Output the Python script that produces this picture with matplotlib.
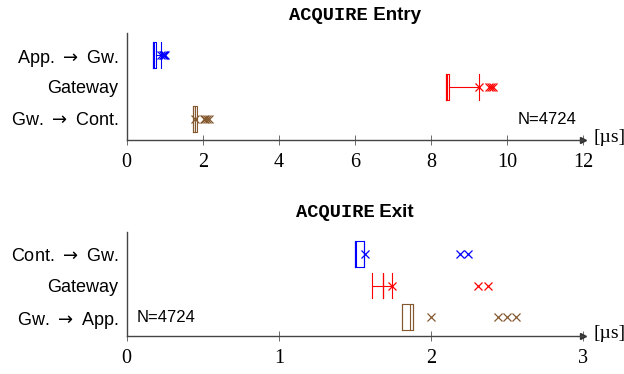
import matplotlib
matplotlib.use("Agg")
import matplotlib.pyplot as plt

# ---------------- data ----------------
entry_labels = ["App. $\\rightarrow$ Gw.", "Gateway", "Gw. $\\rightarrow$ Cont."]
entry_q1 = [0.70, 8.40, 1.75]
entry_med = [0.72, 8.43, 1.79]
entry_q3 = [0.76, 8.47, 1.84]
entry_wlo = [0.70, 8.40, 1.75]
entry_whi = [0.89, 9.27, 1.80]
entry_fliers = [[0.90, 0.95, 0.98, 1.00],
                [9.27, 9.52, 9.57, 9.62],
                [1.80, 2.02, 2.07, 2.12, 2.17]]

exit_labels = ["Cont. $\\rightarrow$ Gw.", "Gateway", "Gw. $\\rightarrow$ App."]
exit_q1 = [1.50, 1.686, 1.81]
exit_med = [1.505, 1.686, 1.865]
exit_q3 = [1.56, 1.686, 1.88]
exit_wlo = [1.50, 1.616, 1.81]
exit_whi = [1.56, 1.745, 1.88]
exit_fliers = [[1.565, 2.19, 2.245],
               [1.745, 2.31, 2.376],
               [2.00, 2.44, 2.50, 2.56]]

entry_ticks = [0, 2, 4, 6, 8, 10, 12]
exit_ticks = [0, 1, 2, 3]
colors = ["#0000ff", "#ff0000", "#85592f"]
n_text = "N=4724"
unit = "[µs]"

plt.rcParams["mathtext.fontset"] = "dejavusans"

W, H = 624, 374
fig = plt.figure(figsize=(W / 100, H / 100), dpi=100)


def px_ax(x0, y0, x1, y1):
    return fig.add_axes([x0 / W, 1 - y1 / H, (x1 - x0) / W, (y1 - y0) / H])


def draw_panel(ax, labels, q1, med, q3, wlo, whi, fliers, xlim, ticks, ylim):
    positions = [3, 2, 1]
    for i in range(3):
        st = dict(med=med[i], q1=q1[i], q3=q3[i], whislo=wlo[i], whishi=whi[i],
                  fliers=fliers[i], label=labels[i])
        c = colors[i]
        ax.bxp([st], positions=[positions[i]], vert=False, widths=0.8,
               capwidths=0.8, showfliers=True,
               boxprops=dict(color=c, linewidth=0.8),
               medianprops=dict(color=c, linewidth=0.8),
               whiskerprops=dict(color=c, linewidth=0.8),
               capprops=dict(color=c, linewidth=0.8),
               flierprops=dict(marker="x", markeredgecolor=c, markersize=6,
                               markeredgewidth=0.9, linestyle="none"))
    ax.set_xlim(*xlim)
    ax.set_ylim(*ylim)
    ax.set_yticks(positions)
    ax.set_yticklabels(labels, family=["Liberation Sans", "DejaVu Sans"], fontsize=13)
    ax.set_xticks(ticks)
    ax.set_xticklabels([str(t) for t in ticks], family="Liberation Serif", fontsize=14.5)
    for s in ["top", "right"]:
        ax.spines[s].set_visible(False)
    for s in ["left", "bottom"]:
        ax.spines[s].set_color("#444444")
        ax.spines[s].set_linewidth(1.0)
    ax.tick_params(axis="y", length=0, pad=6)
    ax.tick_params(axis="x", direction="inout", length=7, width=0.6,
                   color="#555555", pad=6)
    ax.plot([1], [0], marker=">", markersize=5, color="#333333",
            transform=ax.transAxes, clip_on=False)
    ax.text(1.022, 0.02, unit, transform=ax.transAxes, ha="left", va="center",
            family="Liberation Serif", fontsize=14)
    ax.patch.set_visible(False)


ax1 = px_ax(126.7, 33, 583, 140)
draw_panel(ax1, entry_labels, entry_q1, entry_med, entry_q3, entry_wlo,
           entry_whi, entry_fliers, (0, 12), entry_ticks, (0.34, 3.69))
ax1.text(0.986, 0.196, n_text, transform=ax1.transAxes, ha="right",
         va="center", family="Liberation Sans", fontsize=12)

ax2 = px_ax(126.7, 232, 583, 336)
draw_panel(ax2, exit_labels, exit_q1, exit_med, exit_q3, exit_wlo,
           exit_whi, exit_fliers, (0, 3), exit_ticks, (0.4, 3.7))
ax2.text(0.022, 0.18, n_text, transform=ax2.transAxes, ha="left",
         va="center", family="Liberation Sans", fontsize=12)


def mixed_title(ax, word, y_px):
    t1 = fig.text(0, 1 - y_px / H, "ACQUIRE", family="Liberation Mono",
                  weight="bold", fontsize=13.5, ha="left", va="center")
    t2 = fig.text(0, 1 - y_px / H, " " + word, family="Liberation Sans",
                  weight="bold", fontsize=13.5, ha="left", va="center")
    fig.canvas.draw()
    r = fig.canvas.get_renderer()
    w1 = t1.get_window_extent(r).width
    w2 = t2.get_window_extent(r).width
    bb = ax.get_window_extent(r)
    cx = (bb.x0 + bb.x1) / 2
    start = cx - (w1 + w2) / 2
    t1.set_x(start / W)
    t2.set_x((start + w1) / W)


mixed_title(ax1, "Entry", 15)
mixed_title(ax2, "Exit", 212)

fig.savefig("out.png", dpi=100)
